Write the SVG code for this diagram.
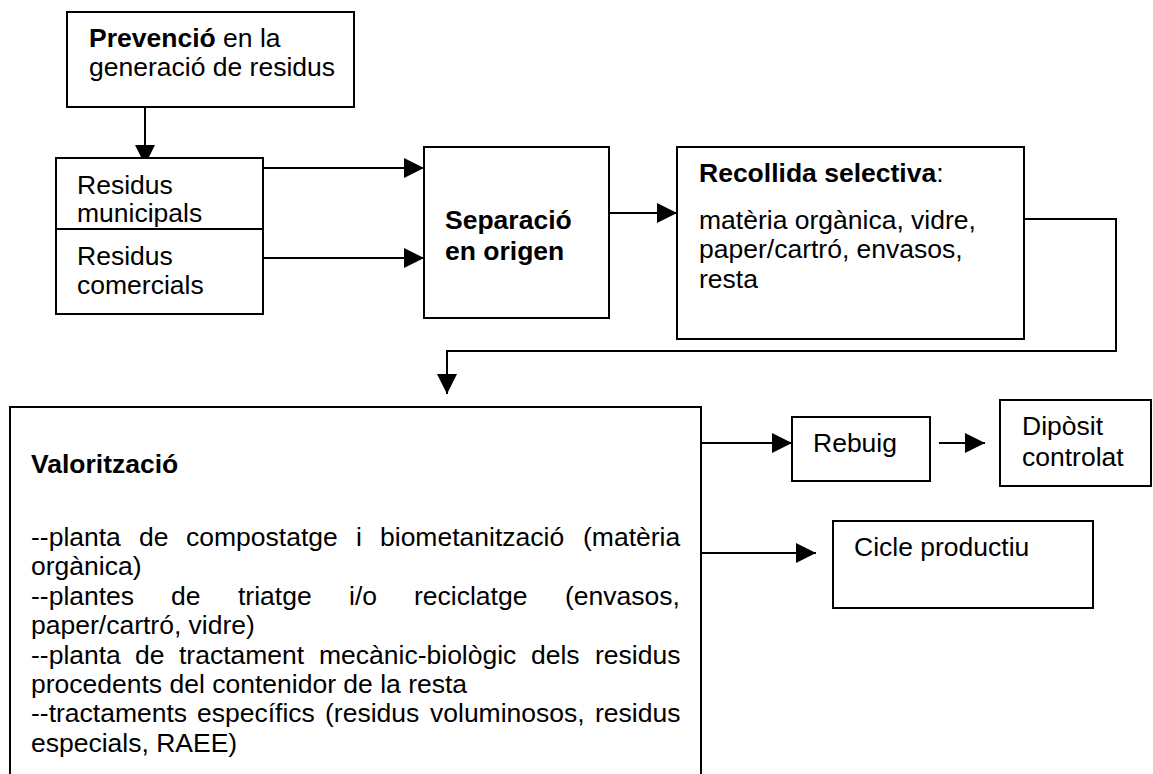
<svg xmlns="http://www.w3.org/2000/svg" width="1153" height="774" viewBox="0 0 1153 774">
<style>
.box{fill:#fff;stroke:#000;stroke-width:2}
.ln{fill:none;stroke:#000;stroke-width:2}
text{font-family:"Liberation Sans",Arial,sans-serif;font-size:26.5px;fill:#000}
.b{font-weight:bold}
</style>
<defs>
<marker id="ah" markerUnits="userSpaceOnUse" markerWidth="20" markerHeight="20" viewBox="0 0 20 20" refX="20" refY="10" orient="auto">
<path d="M0,0 L20,10 L0,20 z" fill="#000"/>
</marker>
</defs>
<rect width="1153" height="774" fill="#fff"/>
<g id="connectors">
<line class="ln" x1="145" y1="107" x2="145" y2="165" marker-end="url(#ah)"/>
<line class="ln" x1="263" y1="168" x2="424" y2="168" marker-end="url(#ah)"/>
<line class="ln" x1="263" y1="258" x2="424" y2="258" marker-end="url(#ah)"/>
<line class="ln" x1="609" y1="213" x2="677" y2="213" marker-end="url(#ah)"/>
<polyline class="ln" points="1024,219 1116,219 1116,351 447,351 447,394" marker-end="url(#ah)"/>
<line class="ln" x1="701" y1="443" x2="792" y2="443" marker-end="url(#ah)"/>
<line class="ln" x1="939" y1="443" x2="985" y2="443" marker-end="url(#ah)"/>
<line class="ln" x1="701" y1="553" x2="816" y2="553" marker-end="url(#ah)"/>
</g>
<g id="prevencio">
<rect class="box" x="67" y="12" width="287" height="95"/>
<text x="89" y="47"><tspan class="b">Prevenció</tspan> en la</text>
<text x="89" y="76">generació de residus</text>
</g>
<g id="residus">
<rect class="box" x="56" y="158" width="207" height="156"/>
<line class="ln" x1="56" y1="229" x2="263" y2="229"/>
<text x="77" y="194">Residus</text>
<text x="77" y="222">municipals</text>
<text x="77" y="265">Residus</text>
<text x="77" y="294">comercials</text>
</g>
<g id="separacio">
<rect class="box" x="424" y="147" width="185" height="171"/>
<text class="b" x="445" y="229">Separació</text>
<text class="b" x="445" y="260">en origen</text>
</g>
<g id="recollida">
<rect class="box" x="677" y="147" width="347" height="192"/>
<text x="699" y="182"><tspan class="b">Recollida selectiva</tspan>:</text>
<text x="699" y="229">matèria orgànica, vidre,</text>
<text x="699" y="258">paper/cartró, envasos,</text>
<text x="699" y="288">resta</text>
</g>
<g id="valoritzacio">
<rect class="box" x="10" y="407" width="691" height="400"/>
<text class="b" x="31" y="473">Valorització</text>
<text y="546"><tspan x="31">--planta</tspan><tspan x="139">de</tspan><tspan x="186">compostatge</tspan><tspan x="356">i</tspan><tspan x="380">biometanització</tspan><tspan x="583">(matèria</tspan></text>
<text x="31" y="575.4">orgànica)</text>
<text y="604.8"><tspan x="31">--plantes</tspan><tspan x="171">de</tspan><tspan x="238">triatge</tspan><tspan x="349">i/o</tspan><tspan x="414">reciclatge</tspan><tspan x="565">(envasos,</tspan></text>
<text x="31" y="634.2">paper/cartró, vidre)</text>
<text y="663.6"><tspan x="31">--planta</tspan><tspan x="135">de</tspan><tspan x="179">tractament</tspan><tspan x="319">mecànic-biològic</tspan><tspan x="531">dels</tspan><tspan x="595">residus</tspan></text>
<text x="31" y="693">procedents del contenidor de la resta</text>
<text y="722.4"><tspan x="31">--tractaments</tspan><tspan x="197">específics</tspan><tspan x="325">(residus</tspan><tspan x="430">voluminosos,</tspan><tspan x="595">residus</tspan></text>
<text x="31" y="751.8">especials, RAEE)</text>
</g>
<g id="rebuig">
<rect class="box" x="792" y="417" width="138" height="64"/>
<text x="813" y="452">Rebuig</text>
</g>
<g id="diposit">
<rect class="box" x="1000" y="400" width="151" height="86"/>
<text x="1022" y="435">Dipòsit</text>
<text x="1022" y="466">controlat</text>
</g>
<g id="cicle">
<rect class="box" x="833" y="521" width="260" height="87"/>
<text x="854" y="556">Cicle productiu</text>
</g>
</svg>
